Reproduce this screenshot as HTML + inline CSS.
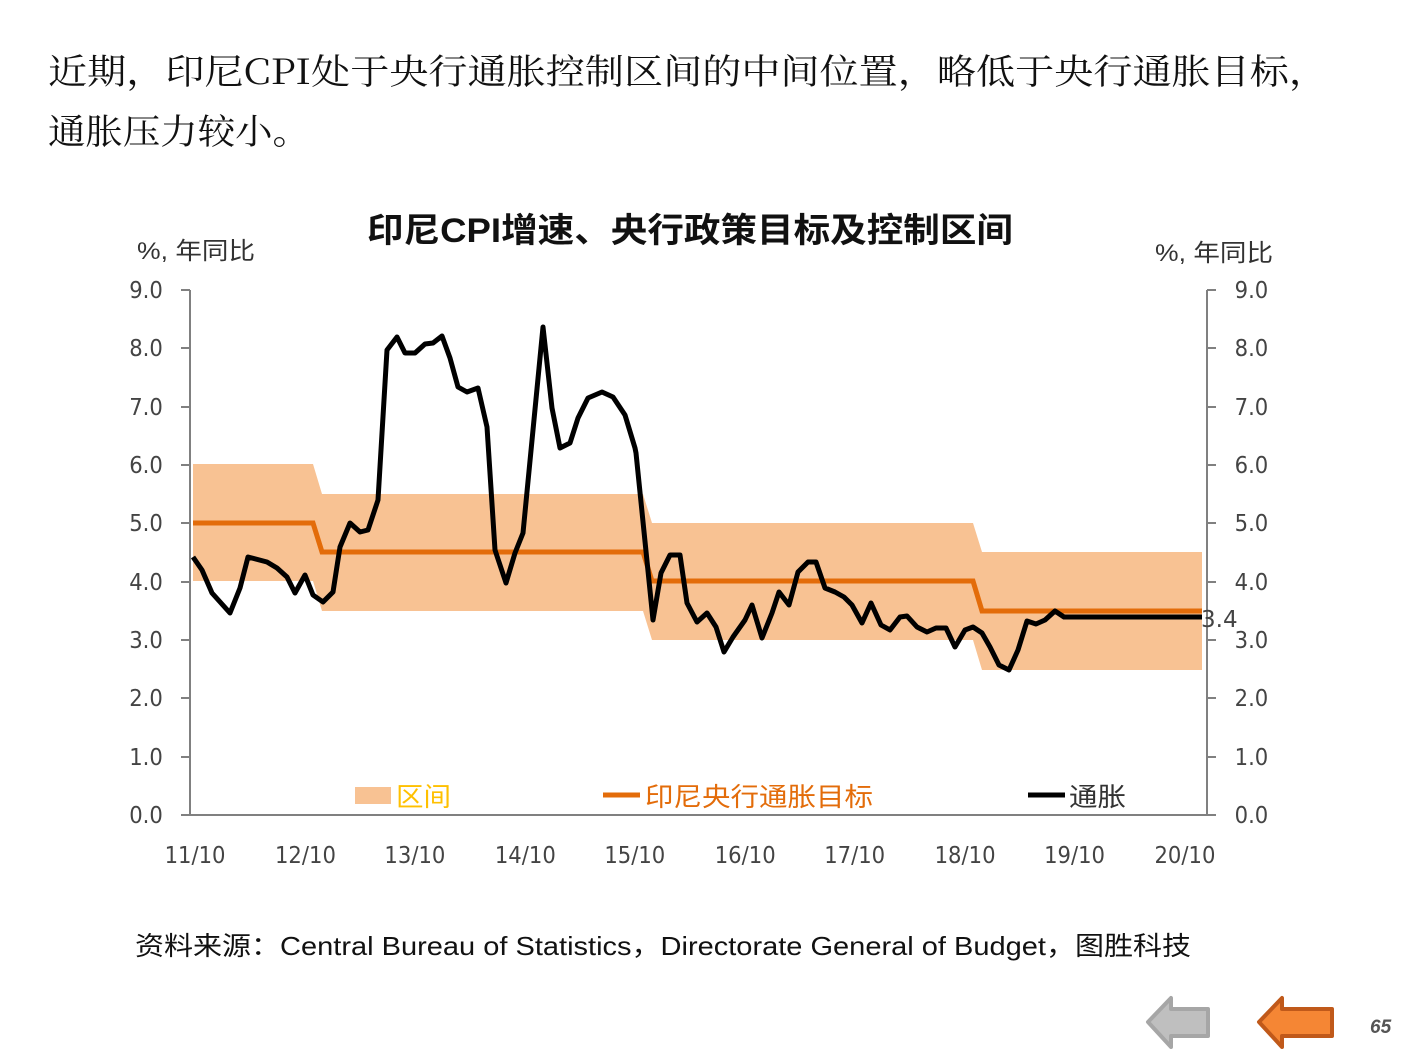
<!DOCTYPE html>
<html><head><meta charset="utf-8"><style>
body{margin:0;width:1411px;height:1058px;background:#fff;overflow:hidden;position:relative;font-family:"Liberation Sans","Noto Sans CJK SC",sans-serif}
</style></head><body>
<svg width="1411" height="1058" style="position:absolute;left:0;top:0">
<g font-family="'Noto Serif CJK SC','Liberation Serif',serif" font-size="35" fill="#111">
<text x="48" y="84" textLength="1280" lengthAdjust="spacingAndGlyphs">近期，印尼CPI处于央行通胀控制区间的中间位置，略低于央行通胀目标，</text>
<text x="48" y="144" textLength="262" lengthAdjust="spacingAndGlyphs">通胀压力较小。</text>
</g>
<text x="367" y="242" textLength="646" lengthAdjust="spacingAndGlyphs" font-size="34" font-weight="bold" fill="#111">印尼CPI增速、央行政策目标及控制区间</text>
<text x="137" y="259" textLength="118" lengthAdjust="spacingAndGlyphs" font-size="24" fill="#333">%, 年同比</text>
<text x="1155" y="261" textLength="118" lengthAdjust="spacingAndGlyphs" font-size="24" fill="#333">%, 年同比</text>
<polygon fill="#f8c293" points="193,464 313,464 322,494 643,494 652,523 973,523 982,552 1202,552 1202,670 982,670 973,640 652,640 643,611 322,611 313,581 193,581"/>
<g stroke="#808080" stroke-width="2" fill="none">
<line x1="190" y1="290" x2="190" y2="815"/><line x1="1207" y1="290" x2="1207" y2="815"/>
<line x1="190" y1="815" x2="1207" y2="815"/>
</g>
<g stroke="#808080" stroke-width="2">
<line x1="181" y1="290" x2="190" y2="290"/><line x1="181" y1="348" x2="190" y2="348"/><line x1="181" y1="407" x2="190" y2="407"/><line x1="181" y1="465" x2="190" y2="465"/><line x1="181" y1="523" x2="190" y2="523"/><line x1="181" y1="582" x2="190" y2="582"/><line x1="181" y1="640" x2="190" y2="640"/><line x1="181" y1="698" x2="190" y2="698"/><line x1="181" y1="757" x2="190" y2="757"/><line x1="181" y1="815" x2="190" y2="815"/>
<line x1="1207" y1="290" x2="1216" y2="290"/><line x1="1207" y1="348" x2="1216" y2="348"/><line x1="1207" y1="407" x2="1216" y2="407"/><line x1="1207" y1="465" x2="1216" y2="465"/><line x1="1207" y1="523" x2="1216" y2="523"/><line x1="1207" y1="582" x2="1216" y2="582"/><line x1="1207" y1="640" x2="1216" y2="640"/><line x1="1207" y1="698" x2="1216" y2="698"/><line x1="1207" y1="757" x2="1216" y2="757"/><line x1="1207" y1="815" x2="1216" y2="815"/>
</g>
<g font-size="23" fill="#444" font-family="'DejaVu Sans',sans-serif" transform="scale(0.92,1)">
<g text-anchor="end">
<text x="177" y="298">9.0</text><text x="177" y="356">8.0</text><text x="177" y="415">7.0</text><text x="177" y="473">6.0</text><text x="177" y="531">5.0</text><text x="177" y="590">4.0</text><text x="177" y="648">3.0</text><text x="177" y="706">2.0</text><text x="177" y="765">1.0</text><text x="177" y="823">0.0</text>
</g>
<g>
<text x="1342" y="298">9.0</text><text x="1342" y="356">8.0</text><text x="1342" y="415">7.0</text><text x="1342" y="473">6.0</text><text x="1342" y="531">5.0</text><text x="1342" y="590">4.0</text><text x="1342" y="648">3.0</text><text x="1342" y="706">2.0</text><text x="1342" y="765">1.0</text><text x="1342" y="823">0.0</text>
</g>
<g text-anchor="middle">
<text x="212" y="863">11/10</text><text x="332" y="863">12/10</text><text x="451" y="863">13/10</text><text x="571" y="863">14/10</text><text x="690" y="863">15/10</text><text x="810" y="863">16/10</text><text x="929" y="863">17/10</text><text x="1049" y="863">18/10</text><text x="1168" y="863">19/10</text><text x="1288" y="863">20/10</text>
</g>
</g>
<polyline fill="none" stroke="#e36c0a" stroke-width="5" points="193,523 313,523 322,552 643,552 652,581 973,581 982,611 1202,611"/>
<polyline fill="none" stroke="#000" stroke-width="5" stroke-linejoin="round" points="193,557 202,570 212,593 230,613 240,588 248,557 267,562 277,568 287,577 295,593 305,575 313,595 323,602 333,592 340,547 350,523 360,532 368,530 378,500 387,350 397,337 405,353 415,353 425,344 433,343 442,336 450,358 458,387 467,392 478,388 487,427 495,550 506,583 515,553 523,533 543,327 552,408 560,448 570,443 578,418 588,398 602,392 613,397 625,415 635,448 636,453 653,620 661,573 670,555 680,555 687,603 697,622 707,613 716,627 724,652 733,637 745,620 752,605 762,638 772,613 779,592 789,605 798,572 808,562 816,562 825,588 835,592 844,597 852,605 862,623 871,603 881,625 890,630 900,617 907,616 917,627 927,632 936,628 946,628 955,647 965,630 973,627 982,633 990,647 999,665 1009,670 1018,650 1027,621 1036,624 1045,620 1055,611 1064,617 1202,617"/>
<text x="1201" y="627" font-size="23" fill="#444" font-family="'DejaVu Sans',sans-serif">3.4</text>
<rect x="355" y="787" width="36" height="17" fill="#f8c293"/>
<text x="396" y="806" font-size="26" fill="#ffc000" textLength="55" lengthAdjust="spacingAndGlyphs">区间</text>
<line x1="603" y1="795" x2="640" y2="795" stroke="#e36c0a" stroke-width="5"/>
<text x="645" y="806" font-size="26" fill="#e36c0a" textLength="228" lengthAdjust="spacingAndGlyphs">印尼央行通胀目标</text>
<line x1="1028" y1="795" x2="1065" y2="795" stroke="#000" stroke-width="5"/>
<text x="1069" y="806" font-size="26" fill="#333" textLength="57" lengthAdjust="spacingAndGlyphs">通胀</text>
<text x="135" y="955" font-size="26" fill="#111" textLength="1056" lengthAdjust="spacingAndGlyphs">资料来源：Central Bureau of Statistics，Directorate General of Budget，图胜科技</text>
<polygon points="1148,1022 1171,998 1171,1009 1208,1009 1208,1036 1171,1036 1171,1047" fill="#bfbfbf" stroke="#a6a6a6" stroke-width="4" stroke-linejoin="round"/>
<polygon points="1259,1022 1282,998 1282,1009 1332,1009 1332,1036 1282,1036 1282,1047" fill="#f58634" stroke="#c0591a" stroke-width="4" stroke-linejoin="round"/>
<text x="1370" y="1033" font-size="19" font-weight="bold" font-style="italic" fill="#555">65</text>
</svg>
</body></html>
